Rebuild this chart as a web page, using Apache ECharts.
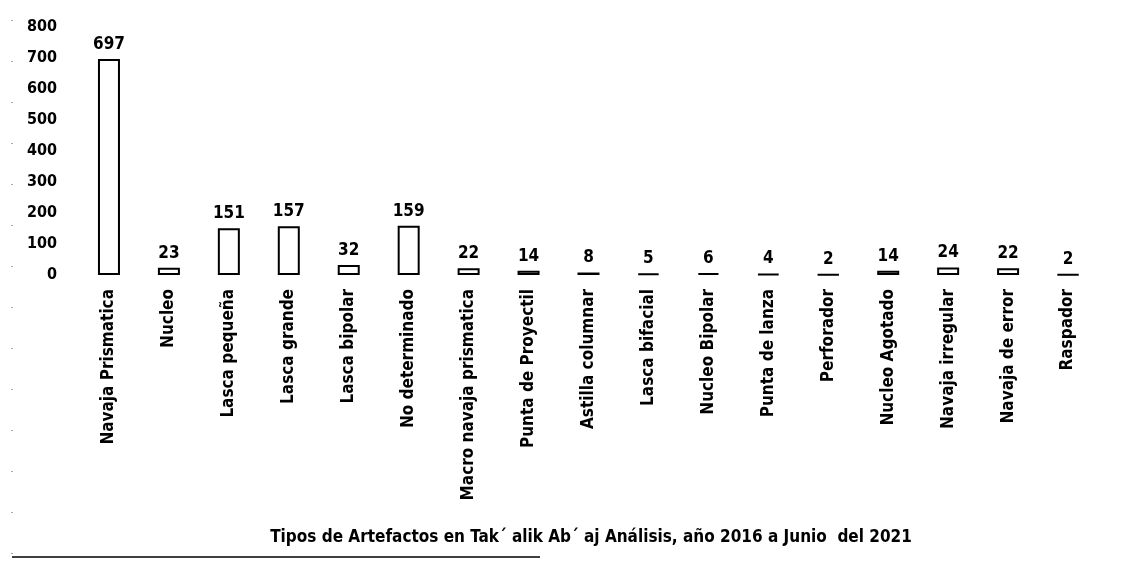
<!DOCTYPE html>
<html>
<head>
<meta charset="utf-8">
<script src="https://cdn.jsdelivr.net/npm/echarts@6/dist/echarts.min.js"></script>
<style>
  html, body { margin: 0; padding: 0; background: #fff; }
  #myChart1 { width: 1125px; height: 567px; }
</style>
</head>
<body>
<div id="myChart1"></div>
<script>
// categorias y conteos
var categories = ['Navaja Prismatica', 'Nucleo', 'Lasca pequeña', 'Lasca grande', 'Lasca bipolar',
    'No determinado', 'Macro navaja prismatica', 'Punta de Proyectil', 'Astilla columnar',
    'Lasca bifacial', 'Nucleo Bipolar', 'Punta de lanza', 'Perforador', 'Nucleo Agotado',
    'Navaja irregular', 'Navaja de error', 'Raspador'];
var counts = [697, 23, 151, 157, 32, 159, 22, 14, 8, 5, 6, 4, 2, 14, 24, 22, 2];
var yTicks = [0, 100, 200, 300, 400, 500, 600, 700, 800];

var fontName = '"Liberation Sans Narrow", "DejaVu Sans Condensed", "Liberation Sans", sans-serif';

var option = {
    backgroundColor: '#fff',
    animation: false,
    title: {
        text: 'Tipos de Artefactos en Tak\u00b4 alik Ab\u00b4 aj Análisis, año 2016 a Junio  del 2021',
        left: 586,
        top: 524,
        textAlign: 'center',
        textStyle: {
            fontFamily: fontName,
            fontSize: 17,
            fontWeight: 'bold',
            color: '#000'
        }
    },
    grid: {
        left: 79,
        right: 27,
        top: 27,
        bottom: 292
    },
    xAxis: {
        type: 'category',
        data: categories,
        axisLine: { show: false },
        axisTick: { show: false },
        axisLabel: {
            rotate: 90,
            interval: 0,
            margin: 14,
            color: '#000',
            fontFamily: fontName,
            fontSize: 17,
            fontWeight: 'bold'
        }
    },
    yAxis: {
        type: 'value',
        min: yTicks[0],
        max: yTicks[yTicks.length - 1],
        interval: 100,
        axisLine: { show: false },
        axisTick: { show: false },
        splitLine: { show: false },
        axisLabel: {
            margin: 22,
            color: '#000',
            fontFamily: fontName,
            fontSize: 16,
            fontWeight: 'bold'
        }
    },
    series: [
        {
            type: 'bar',
            data: counts,
            barWidth: 22,
            itemStyle: {
                color: '#fff',
                borderColor: '#000',
                borderWidth: 2
            },
            label: {
                show: true,
                position: 'top',
                distance: 6,
                color: '#000',
                fontFamily: fontName,
                fontSize: 17,
                fontWeight: 'bold'
            }
        }
    ],
    graphic: [
        {
            type: 'line',
            shape: { x1: 12, y1: 557, x2: 540, y2: 557 },
            style: { stroke: '#000', lineWidth: 1.5 }
        },
        {
            type: 'line',
            shape: { x1: 12, y1: 20, x2: 12, y2: 555 },
            style: { stroke: '#555', lineWidth: 1, lineDash: [1, 40] }
        }
    ]
};

var myChart1 = echarts.init(document.getElementById('myChart1'));
myChart1.setOption(option);
window.onresize = myChart1.resize;
</script>
</body>
</html>
